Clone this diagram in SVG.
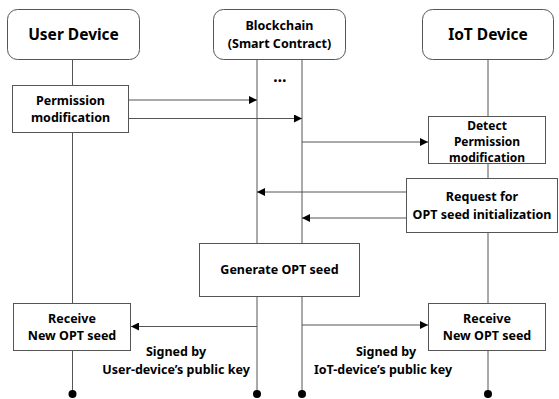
<svg xmlns="http://www.w3.org/2000/svg" width="559" height="399" viewBox="0 0 559 399">
<style>
.hdr{fill:#fff;stroke:#555;stroke-width:1}
.box{fill:#fff;stroke:#555;stroke-width:1}
.life{stroke:#555;stroke-width:1;fill:none}
.msg{stroke:#555;stroke-width:1;fill:none;marker-end:url(#ah)}
text{font-family:"Noto Sans","Liberation Sans",sans-serif;font-weight:bold;fill:#000;text-anchor:middle}
.t16{font-size:15.5px}
.t13{font-size:12.5px}
.t12{font-size:12px}
.dot{fill:#000}
</style>
<defs>
<marker id="ah" viewBox="0 0 10 10" refX="10" refY="5" markerWidth="10" markerHeight="8" markerUnits="userSpaceOnUse" orient="auto"><path d="M0,0 L10,5 L0,10 z" fill="#000"/></marker>
</defs>
<g id="lifelines">
<line class="life" x1="72.5" y1="59" x2="72.5" y2="394"/>
<line class="life" x1="257" y1="59" x2="257" y2="394"/>
<line class="life" x1="302" y1="59" x2="302" y2="394"/>
<line class="life" x1="488" y1="59" x2="488" y2="394"/>
<circle class="dot" cx="72.5" cy="394" r="4"/>
<circle class="dot" cx="257" cy="394" r="4"/>
<circle class="dot" cx="302" cy="394" r="4"/>
<circle class="dot" cx="488" cy="394" r="4"/>
</g>
<g id="user-device"><rect class="hdr" x="7.5" y="9.5" width="132" height="50" rx="10"/><text class="t16" x="73.5" y="40">User Device</text></g>
<g id="blockchain"><rect class="hdr" x="213.5" y="9.5" width="132" height="50" rx="10"/><text class="t13" x="279.5" y="30">Blockchain</text><text class="t13" x="279.5" y="48">(Smart Contract)</text></g>
<g id="iot-device"><rect class="hdr" x="422.5" y="9.5" width="131" height="50" rx="10"/><text class="t16" x="488" y="40">IoT Device</text></g>
<g id="ellipsis"><text class="t16" x="280" y="82">…</text></g>
<g id="perm-mod"><rect class="box" x="12.5" y="85.5" width="116" height="47"/><text class="t13" x="70.5" y="105">Permission</text><text class="t13" x="70.5" y="122">modification</text></g>
<g id="detect"><rect class="box" x="428.5" y="116.5" width="117" height="47"/><text class="t12" x="487" y="130">Detect</text><text class="t12" x="487" y="146">Permission</text><text class="t12" x="487" y="161.5">modification</text></g>
<g id="request"><rect class="box" x="406.5" y="178.5" width="151" height="54"/><text class="t13" x="482" y="201">Request for</text><text class="t13" x="482" y="219">OPT seed initialization</text></g>
<g id="generate"><rect class="box" x="199.5" y="243.5" width="160" height="53"/><text class="t13" x="279.5" y="274">Generate OPT seed</text></g>
<g id="receive-user"><rect class="box" x="13.5" y="303.5" width="117" height="47"/><text class="t13" x="72" y="323">Receive</text><text class="t13" x="72" y="340">New OPT seed</text></g>
<g id="receive-iot"><rect class="box" x="428.5" y="303.5" width="117" height="47"/><text class="t13" x="487" y="323">Receive</text><text class="t13" x="487" y="340">New OPT seed</text></g>
<g id="connectors">
<line class="msg" x1="129" y1="100" x2="257" y2="100"/>
<line class="msg" x1="129" y1="118.5" x2="302" y2="118.5"/>
<line class="msg" x1="302" y1="142" x2="428" y2="142"/>
<line class="msg" x1="406" y1="192" x2="257" y2="192"/>
<line class="msg" x1="406" y1="218" x2="302" y2="218"/>
<line class="msg" x1="257" y1="326.5" x2="131" y2="326.5"/>
<line class="msg" x1="302" y1="325" x2="428" y2="325"/>
</g>
<g id="labels">
<text class="t13" x="176" y="356">Signed by</text>
<text class="t13" x="176" y="374">User-device’s public key</text>
<text class="t13" x="386" y="356">Signed by</text>
<text class="t13" x="383" y="374">IoT-device’s public key</text>
</g>
</svg>
